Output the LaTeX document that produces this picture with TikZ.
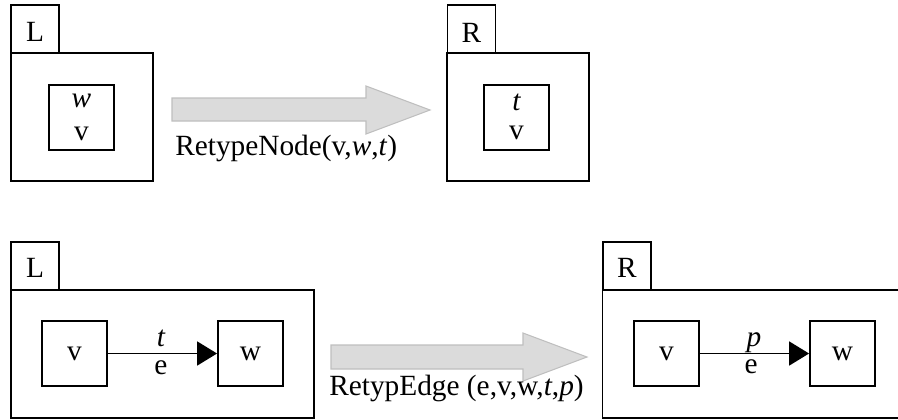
\documentclass[tikz,border=0pt]{standalone}
\usepackage{fontspec}
\setmainfont{Liberation Serif}
\usetikzlibrary{arrows.meta}
\begin{document}
\begin{tikzpicture}[x=0.75pt,y=-0.75pt,
  font=\fontsize{22}{26}\selectfont,
  frame/.style={draw, line width=1.4pt, inner sep=0pt},
  tabbox/.style={frame, minimum width=36pt, minimum height=36pt},
  vbox/.style={frame, minimum width=48.75pt, minimum height=48.75pt},
  txt/.style={inner sep=0pt, anchor=base},
  edgearrow/.style={line width=1.4pt, -{Triangle[length=15pt,width=18pt]}},
  bigarrow/.style={fill=black!14, draw=black!25, line width=0.8pt, line join=miter}]
\useasboundingbox (0,0) rectangle (898,419);

% ---- RetypeNode rule ----
\node[frame, minimum width=106.5pt, minimum height=96pt] (lgraph1) at (82,117) {};
\node[tabbox] (ltab1) at (35,29) {};
\node[txt] (llab1) at (35,41) {L};
\node[vbox] (lnode1) at (81.5,117.5) {};
\node[txt] at (81.5,107) {\itshape w};
\node[txt] at (81.5,140) {v};

\node[frame, minimum width=106.5pt, minimum height=96pt] (rgraph1) at (518,117) {};
\node[tabbox] (rtab1) at (471.5,29) {};
\node[txt] (rlab1) at (471.5,42) {R};
\node[vbox] (rnode1) at (516.5,117.5) {};
\node[txt] at (516.5,110) {\itshape t};
\node[txt] at (516.5,139) {v};

\draw[bigarrow] (172,98) -- (366,98) -- (366,86) -- (430,110) -- (366,134)
  -- (366,121) -- (172,121) -- cycle;
\node[inner sep=0pt, anchor=base west] (op1) at (175,155) {RetypeNode(v,\textit{w},\textit{t})};

% ---- RetypEdge rule ----
\node[frame, minimum width=227.25pt, minimum height=96pt] (lgraph2) at (162.5,354) {};
\node[tabbox] (ltab2) at (35,266) {};
\node[txt] at (35,277) {L};
\node[vbox] (lv) at (74.5,353.5) {v};
\node[vbox] (lw) at (250.5,353.5) {w};
\draw[edgearrow] (lv) -- (lw);
\node[txt] at (161,346) {\itshape t};
\node[txt] at (161,374) {e};

\node[frame, minimum width=227.25pt, minimum height=96pt] (rgraph2) at (754,354) {};
\node[tabbox] (rtab2) at (627,266) {};
\node[txt] at (627,277) {R};
\node[vbox] (rv) at (666.5,353.5) {v};
\node[vbox] (rw) at (842.5,353.5) {w};
\draw[edgearrow] (rv) -- (rw);
\node[txt] at (754,346) {\itshape p};
\node[txt] at (751,373) {e};

\draw[bigarrow] (331,345) -- (523,345) -- (523,333) -- (587,357) -- (523,381)
  -- (523,369) -- (331,369) -- cycle;
\node[inner sep=0pt, anchor=base west] (op2) at (329,395) {RetypEdge (e,v,w,\textit{t},\textit{p})};
\end{tikzpicture}
\end{document}
